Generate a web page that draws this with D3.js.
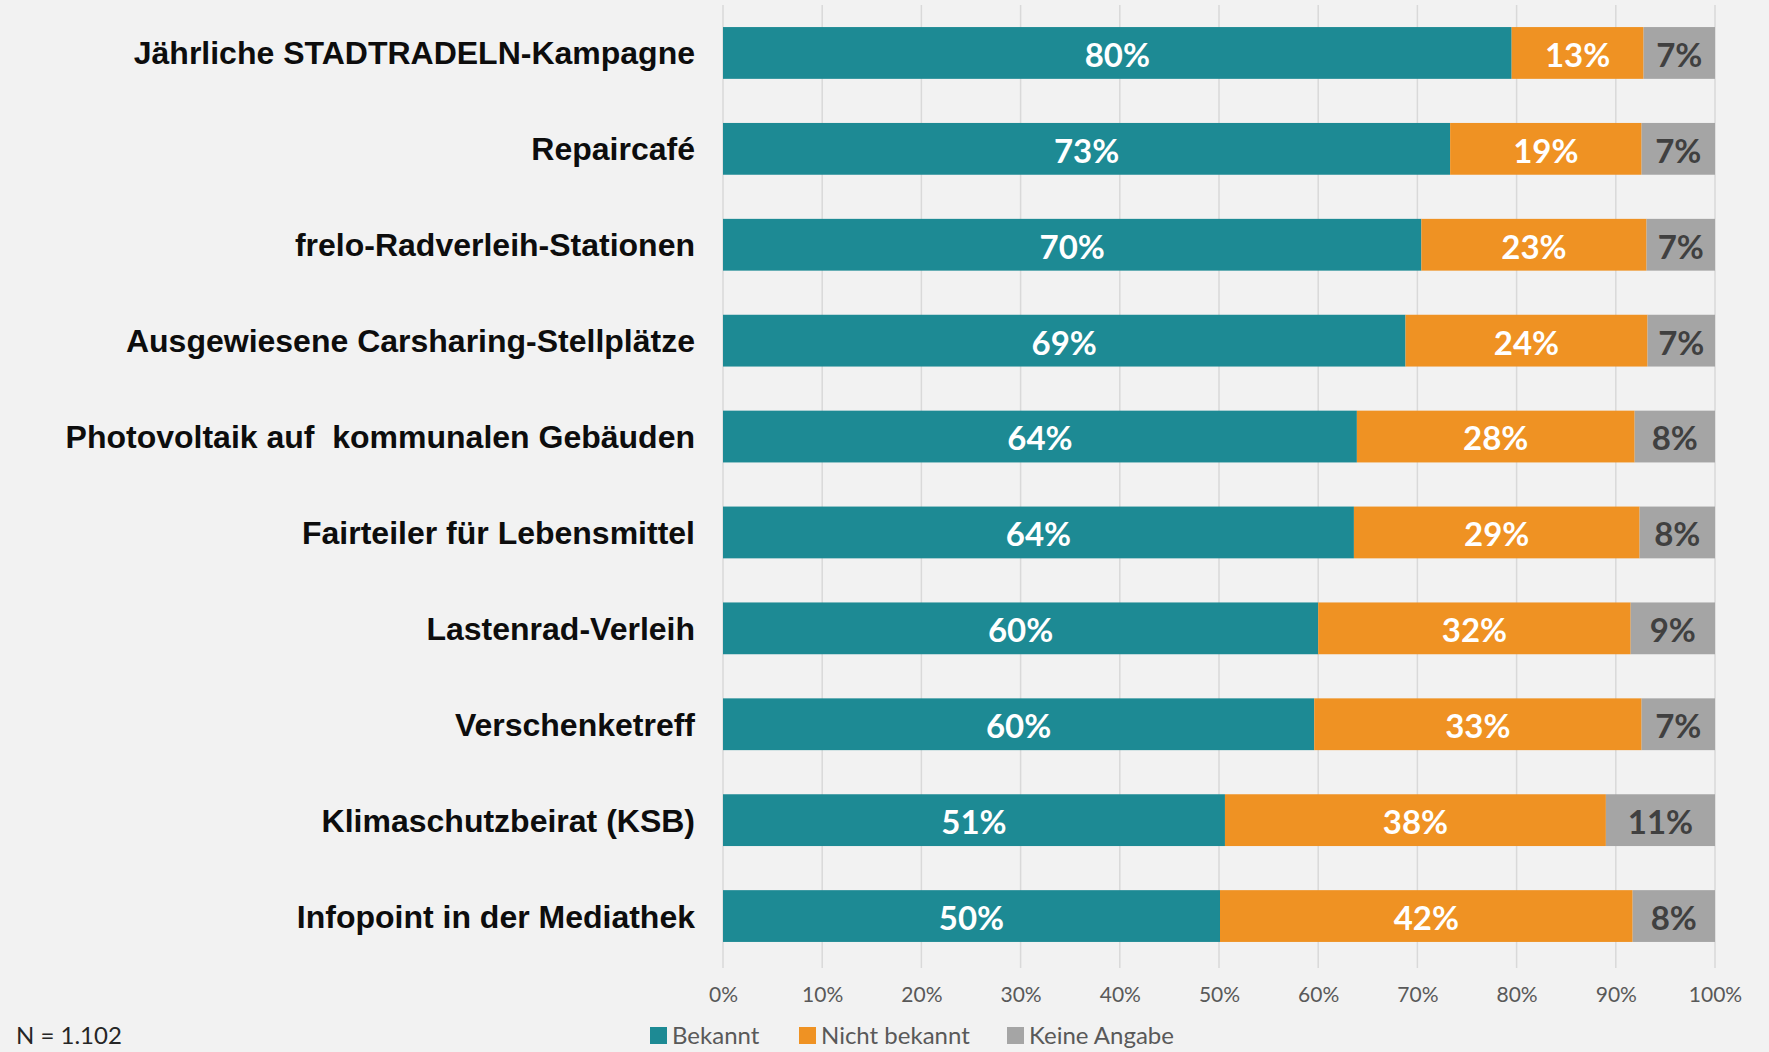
<!DOCTYPE html>
<html>
<head>
<meta charset="utf-8">
<script src="https://cdn.jsdelivr.net/npm/d3@7"></script>
<style>
  html, body { margin: 0; padding: 0; background: #f2f2f2; }
  svg { display: block; }
</style>
</head>
<body>
<div id="chart"></div>
<script>
// categories, top to bottom
var categories = [
  "Jährliche STADTRADELN-Kampagne",
  "Repaircafé",
  "frelo-Radverleih-Stationen",
  "Ausgewiesene Carsharing-Stellplätze",
  "Photovoltaik auf  kommunalen Gebäuden",
  "Fairteiler für Lebensmittel",
  "Lastenrad-Verleih",
  "Verschenketreff",
  "Klimaschutzbeirat (KSB)",
  "Infopoint in der Mediathek"
];
var seriesNames = ["Bekannt", "Nicht bekannt", "Keine Angabe"];
var bekannt      = [79.5, 73.3, 70.4, 68.8, 63.9, 63.6, 60.0, 59.6, 50.6, 50.1];
var nichtBekannt = [13.3, 19.3, 22.7, 24.4, 28.0, 28.8, 31.5, 33.0, 38.4, 41.6];
var keineAngabe  = [7.2, 7.4, 6.9, 6.8, 8.1, 7.6, 8.5, 7.4, 11.0, 8.3];
var xTicks = [0, 10, 20, 30, 40, 50, 60, 70, 80, 90, 100];
var note = "N = 1.102";

function main() {
  var W = 1769, H = 1052;
  var colors = ["#1d8a94", "#ef9223", "#a5a5a5"];
  var labelColors = ["#ffffff", "#ffffff", "#404040"];

  var svg = d3.select("#chart").append("svg")
    .attr("width", W).attr("height", H)
    .style("background", "#f2f2f2");

  var x = d3.scaleLinear().domain([0, 100]).range([723, 1715]);
  var y = d3.scaleBand().domain(categories).range([5, 964]).paddingInner(0.46).paddingOuter(0.23);

  var rows = categories.map(function(c, i) {
    return { cat: c, Bekannt: bekannt[i], "Nicht bekannt": nichtBekannt[i], "Keine Angabe": keineAngabe[i] };
  });
  var stacked = d3.stack().keys(seriesNames)(rows);

  // gridlines
  svg.append("g").selectAll("line").data(xTicks).enter().append("line")
    .attr("x1", function(d) { return x(d); })
    .attr("x2", function(d) { return x(d); })
    .attr("y1", 5).attr("y2", 968)
    .attr("stroke", "#d9d9d9").attr("stroke-width", 1.5);

  // bars
  var layers = svg.append("g").selectAll("g").data(stacked).enter().append("g")
    .attr("fill", function(d, i) { return colors[i]; });
  layers.selectAll("rect").data(function(d) { return d; }).enter().append("rect")
    .attr("x", function(d) { return x(d[0]); })
    .attr("width", function(d) { return x(d[1]) - x(d[0]); })
    .attr("y", function(d) { return y(d.data.cat); })
    .attr("height", y.bandwidth());

  // value labels
  var lab = svg.append("g").selectAll("g").data(stacked).enter().append("g")
    .attr("fill", function(d, i) { return labelColors[i]; });
  lab.selectAll("text").data(function(d) { return d; }).enter().append("text")
    .attr("x", function(d) { return (x(d[0]) + x(d[1])) / 2; })
    .attr("y", function(d) { return y(d.data.cat) + y.bandwidth() / 2; })
    .attr("dy", "0.42em")
    .attr("text-anchor", "middle")
    .style("font-family", "Lato, sans-serif")
    .style("font-weight", "bold")
    .style("font-size", "33px")
    .text(function(d) { return Math.round(d[1] - d[0]) + "%"; });

  // category labels
  svg.append("g").selectAll("text").data(categories).enter().append("text")
    .attr("x", 695)
    .attr("y", function(d) { return y(d) + y.bandwidth() / 2; })
    .attr("dy", "0.36em")
    .attr("text-anchor", "end")
    .attr("fill", "#0d0d0d")
    .style("white-space", "pre")
    .style("font-family", "'Liberation Sans', Arial, sans-serif")
    .style("font-weight", "bold")
    .style("font-size", "32px")
    .text(function(d) { return d; });

  // x axis
  var axis = svg.append("g").attr("transform", "translate(0,968)")
    .call(d3.axisBottom(x).tickValues(xTicks).tickSize(0).tickPadding(19)
      .tickFormat(function(d) { return d + "%"; }));
  axis.select(".domain").remove();
  axis.selectAll("text")
    .attr("fill", "#595959")
    .style("font-family", "Lato, sans-serif")
    .style("font-size", "21px");

  // legend
  var legX = [650, 799, 1007];
  var leg = svg.append("g").selectAll("g").data(seriesNames).enter().append("g")
    .attr("transform", function(d, i) { return "translate(" + legX[i] + ",1035)"; });
  leg.append("rect")
    .attr("x", 0).attr("y", -8).attr("width", 17).attr("height", 17)
    .attr("fill", function(d, i) { return colors[i]; });
  leg.append("text")
    .attr("x", 22).attr("dy", "0.36em")
    .attr("fill", "#595959")
    .style("font-family", "Lato, sans-serif")
    .style("font-size", "24px")
    .text(function(d) { return d; });

  svg.append("text")
    .attr("x", 16).attr("y", 1035).attr("dy", "0.36em")
    .attr("fill", "#262626")
    .style("font-family", "Lato, sans-serif")
    .style("font-size", "24px")
    .text(note);
}

document.addEventListener("DOMContentLoaded", main);
</script>
</body>
</html>
